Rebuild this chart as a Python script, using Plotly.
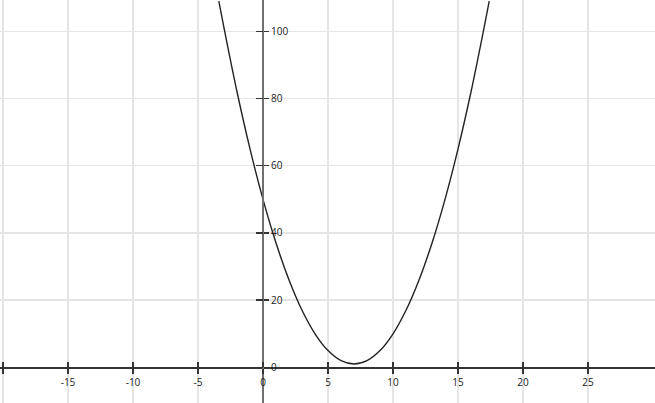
import plotly.graph_objects as go

# Curve points
curve_x = [-3.4, -3, -2, -1, 0, 1, 2, 3, 4, 5, 6, 7, 8, 9, 10, 11, 12, 13, 14, 15, 16, 17, 17.4]
curve_y = [109, 101, 82, 65, 50, 37, 26, 17, 10, 5, 2, 1, 2, 5, 10, 17, 26, 37, 50, 65, 82, 101, 109]

x_ticks = [-20, -15, -10, -5, 0, 5, 10, 15, 20, 25]
x_labels = ["", "-15", "-10", "-5", "0", "5", "10", "15", "20", "25"]
y_ticks = [0, 20, 40, 60, 80, 100]
y_labels = ["0", "20", "40", "60", "80", "100"]

x_range = [-20.23, 30.15]
y_range = [-10.6, 109.3]

xpos = (0 - y_range[0]) / (y_range[1] - y_range[0])
ypos = (0 - x_range[0]) / (x_range[1] - x_range[0])

fig = go.Figure()
fig.add_trace(go.Scatter(x=curve_x, y=curve_y, mode="lines", line=dict(color="#222222", width=1.4, shape="spline"),
                         hoverinfo="skip", showlegend=False))
# helper invisible trace so the tick-only overlay axes render
fig.add_trace(go.Scatter(x=[0], y=[0], xaxis="x2", yaxis="y2", mode="markers",
                         marker=dict(opacity=0), hoverinfo="skip", showlegend=False))

font = dict(family="Segoe UI, Open Sans, Noto Sans, sans-serif", size=10, color="#222222")

fig.update_layout(
    width=655, height=403,
    margin=dict(l=0, r=0, t=0, b=0),
    paper_bgcolor="white", plot_bgcolor="white",
    xaxis=dict(range=x_range, anchor="free", position=xpos, tickvals=x_ticks, ticktext=x_labels,
               showgrid=True, gridcolor="#e5e5e5", gridwidth=1.5, zeroline=False,
               showline=True, linecolor="#333333", linewidth=1.5,
               ticks="outside", ticklen=5, tickwidth=1.5, tickcolor="#333333",
               tickfont=font, fixedrange=True),
    yaxis=dict(range=y_range, anchor="free", position=ypos, side="right", tickvals=y_ticks, ticktext=y_labels,
               showgrid=True, gridcolor="#e5e5e5", gridwidth=1.5, zeroline=False,
               showline=True, linecolor="#707070", linewidth=2,
               ticks="outside", ticklen=5, tickwidth=1.5, tickcolor="#333333",
               tickfont=font, fixedrange=True),
    xaxis2=dict(range=x_range, overlaying="x", anchor="free", position=xpos, tickvals=x_ticks,
                showticklabels=False, showgrid=False, zeroline=False, showline=False,
                ticks="inside", ticklen=5, tickwidth=1.5, tickcolor="#333333", fixedrange=True),
    yaxis2=dict(range=y_range, overlaying="y", anchor="free", position=ypos, side="right", tickvals=y_ticks,
                showticklabels=False, showgrid=False, zeroline=False, showline=False,
                ticks="inside", ticklen=7, tickwidth=1.5, tickcolor="#333333", fixedrange=True),
)

fig.write_html("out.html", config={"displayModeBar": False, "staticPlot": True},
               post_script="document.body.style.margin='0';document.body.style.overflow='hidden';")
